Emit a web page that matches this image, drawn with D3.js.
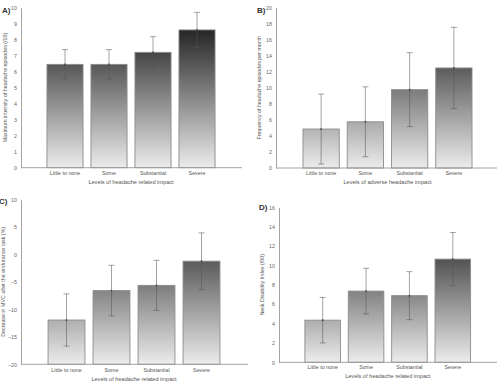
<!DOCTYPE html>
<html>
<head>
<meta charset="utf-8">
<script src="https://cdn.jsdelivr.net/npm/d3@7"></script>
<style>
  html, body { margin: 0; padding: 0; background: #fff; }
  svg { display: block; font-family: "Liberation Sans", Arial, sans-serif; }
</style>
</head>
<body>
<svg id="chart" width="501" height="384"></svg>
<script>
const categories = ["Little to none", "Some", "Substantial", "Severe"];

const intensityMean = [6.45, 6.45, 7.2, 8.6];
const intensityErr = [0.92, 0.92, 0.98, 1.1];

const frequencyMean = [4.85, 5.75, 9.75, 12.45];
const frequencyErr = [4.35, 4.35, 4.6, 5.05];

const mvcMean = [-11.95, -6.6, -5.65, -1.25];
const mvcErr = [4.75, 4.6, 4.55, 5.15];

const ndiMean = [4.35, 7.35, 6.88, 10.65];
const ndiErr = [2.35, 2.35, 2.48, 2.75];

const intensityTicks = d3.range(0, 11, 1);
const frequencyTicks = d3.range(0, 21, 2);
const mvcTicks = d3.range(-20, 11, 5);
const ndiTicks = d3.range(0, 17, 2);

const panels = [
  { id: "A", letter: "A)", mean: intensityMean, err: intensityErr, ticks: intensityTicks,
    yLabel: "Maximum intensity of headache episodes (/10)", xLabel: "Levels of headache related impact",
    axisX: 21, axisEnd: 242, bandRange: [43, 219], yRange: [167.7, 7.5],
    letterPos: [2, 13], yLabelX: 7, tickY: 174.5, titleY: 184 },
  { id: "B", letter: "B)", mean: frequencyMean, err: frequencyErr, ticks: frequencyTicks,
    yLabel: "Frequency of headache episodes per month", xLabel: "Levels of adverse headache impact",
    axisX: 276, axisEnd: 497, bandRange: [299, 476], yRange: [168, 7.3],
    letterPos: [257, 13], yLabelX: 261, tickY: 175, titleY: 184 },
  { id: "C", letter: "C)", mean: mvcMean, err: mvcErr, ticks: mvcTicks,
    yLabel: "Decrease in MVC after the endurance task (%)", xLabel: "Levels of headache related impact",
    axisX: 21, axisEnd: 248, bandRange: [44, 224], yRange: [364.3, 199.3],
    letterPos: [-1, 204], yLabelX: 5, tickY: 371.5, titleY: 380.5 },
  { id: "D", letter: "D)", mean: ndiMean, err: ndiErr, ticks: ndiTicks,
    yLabel: "Neck Disability Index (/50)", xLabel: "Levels of headache related impact",
    axisX: 279, axisEnd: 497, bandRange: [301, 474.5], yRange: [362.3, 207.3],
    letterPos: [259, 210], yLabelX: 264, tickY: 368.5, titleY: 377.5 }
];

const svg = d3.select("#chart");
const defs = svg.append("defs");

panels.forEach(p => drawPanel(p));

function drawPanel(p) {
  const x = d3.scaleBand()
    .domain(categories)
    .range(p.bandRange)
    .paddingInner(0.18)
    .paddingOuter(0.09);

  const y = d3.scaleLinear()
    .domain(d3.extent(p.ticks))
    .range(p.yRange);

  const g = svg.append("g").attr("class", "panel-" + p.id);

  // gradient runs over the whole axis range, so taller bars end darker
  const grad = defs.append("linearGradient")
    .attr("id", "grad" + p.id)
    .attr("gradientUnits", "userSpaceOnUse")
    .attr("x1", 0).attr("x2", 0)
    .attr("y1", p.yRange[0]).attr("y2", p.yRange[1]);
  grad.append("stop").attr("offset", "0%").attr("stop-color", "#ececec");
  grad.append("stop").attr("offset", "100%").attr("stop-color", "#050505");

  const rows = categories.map((c, i) => ({ cat: c, mean: p.mean[i], err: p.err[i] }));
  const base = y.domain()[0];

  g.selectAll("rect.bar")
    .data(rows)
    .enter()
    .append("rect")
    .attr("class", "bar")
    .attr("x", d => x(d.cat))
    .attr("width", x.bandwidth())
    .attr("y", d => y(d.mean))
    .attr("height", d => y(base) - y(d.mean))
    .attr("fill", "url(#grad" + p.id + ")")
    .attr("stroke", "#8c8c8c")
    .attr("stroke-width", 0.9);

  // error bars
  const eb = g.selectAll("g.err")
    .data(rows)
    .enter()
    .append("g")
    .attr("class", "err")
    .attr("transform", d => "translate(" + (x(d.cat) + x.bandwidth() / 2) + ",0)")
    .attr("stroke", "#555")
    .attr("stroke-opacity", 0.6)
    .attr("stroke-width", 0.9);

  eb.append("line")
    .attr("y1", d => y(d.mean + d.err))
    .attr("y2", d => y(d.mean - d.err));
  eb.append("line")
    .attr("x1", -3).attr("x2", 3)
    .attr("y1", d => y(d.mean + d.err))
    .attr("y2", d => y(d.mean + d.err));
  eb.append("line")
    .attr("x1", -3).attr("x2", 3)
    .attr("y1", d => y(d.mean - d.err))
    .attr("y2", d => y(d.mean - d.err));
  eb.append("circle")
    .attr("r", 0.9)
    .attr("cy", d => y(d.mean))
    .attr("fill", "#444")
    .attr("stroke", "none");

  // y axis
  const yAxis = d3.axisLeft(y).tickValues(p.ticks).tickSize(0).tickPadding(4);
  g.append("g")
    .attr("transform", "translate(" + p.axisX + ",0)")
    .call(yAxis)
    .call(a => a.select(".domain").attr("stroke", "#9a9a9a").attr("stroke-width", 0.9))
    .call(a => a.selectAll("text").attr("fill", "#666").attr("font-size", 5.3));

  // x axis line
  g.append("line")
    .attr("x1", p.axisX).attr("x2", p.axisEnd)
    .attr("y1", y(base)).attr("y2", y(base))
    .attr("stroke", "#9a9a9a")
    .attr("stroke-width", 0.9);

  g.selectAll("text.xtick")
    .data(categories)
    .enter()
    .append("text")
    .attr("class", "xtick")
    .attr("x", d => x(d) + x.bandwidth() / 2)
    .attr("y", p.tickY)
    .attr("text-anchor", "middle")
    .attr("font-size", 5.3)
    .attr("fill", "#555")
    .text(d => d);

  const mid = (p.bandRange[0] + p.bandRange[1]) / 2;
  g.append("text")
    .attr("x", mid)
    .attr("y", p.titleY)
    .attr("text-anchor", "middle")
    .attr("font-size", 5.6)
    .attr("fill", "#555")
    .text(p.xLabel);

  const yMid = (p.yRange[0] + p.yRange[1]) / 2;
  g.append("text")
    .attr("transform", "translate(" + p.yLabelX + "," + yMid + ") rotate(-90)")
    .attr("text-anchor", "middle")
    .attr("font-size", 5.3)
    .attr("fill", "#555")
    .text(p.yLabel);

  g.append("text")
    .attr("x", p.letterPos[0])
    .attr("y", p.letterPos[1])
    .attr("font-size", 8)
    .attr("font-weight", "bold")
    .attr("fill", "#333")
    .text(p.letter);
}
</script>
</body>
</html>
